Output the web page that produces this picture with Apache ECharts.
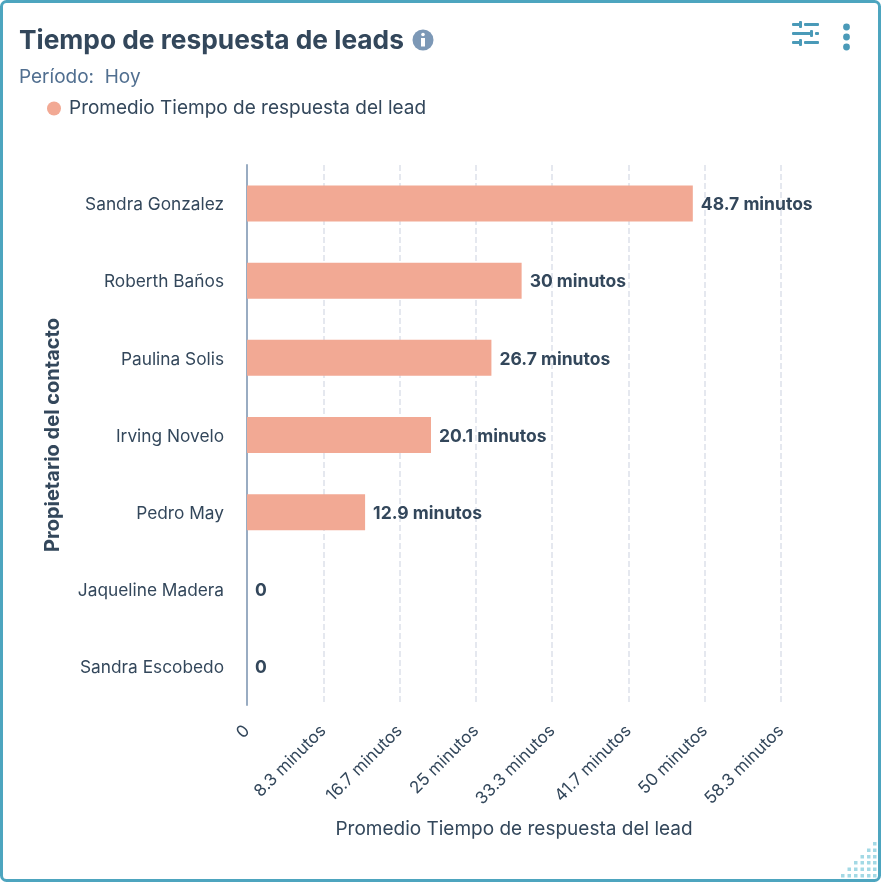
<!DOCTYPE html>
<html>
<head>
<meta charset="utf-8">
<style>
  html, body { margin: 0; padding: 0; background: #fff; }
  #main { width: 881px; height: 883px; }
</style>
<script src="https://cdn.jsdelivr.net/npm/echarts@6/dist/echarts.min.js"></script>
</head>
<body>
<div id="main"></div>
<script>
const owners = ['Sandra Gonzalez', 'Roberth Baños', 'Paulina Solis', 'Irving Novelo', 'Pedro May', 'Jaqueline Madera', 'Sandra Escobedo'];
const avgMinutes = [48.7, 30, 26.7, 20.1, 12.9, 0, 0];
const tickLabels = ['0', '8.3 minutos', '16.7 minutos', '25 minutos', '33.3 minutos', '41.7 minutos', '50 minutos', '58.3 minutos'];
const seriesName = 'Promedio Tiempo de respuesta del lead';
const tickStep = 25 / 3;

const font = 'Inter';
const dark = '#33475b';
const teal = '#4da5bf';
const iconTeal = '#4a9ab8';

// resize handle dots, bottom right
const cornerDots = [];
const dotX = [841, 847.5, 854, 860.5, 867, 873];
const dotY = [842, 848.5, 855, 861, 867.5, 874];
dotY.forEach(function (y, row) {
  dotX.forEach(function (x, col) {
    if (col >= 5 - row) {
      cornerDots.push({ type: 'rect', shape: { x: x, y: y, width: 3.5, height: 3.5 }, style: { fill: '#a3d9e5' }, silent: true });
    }
  });
});

function bar(x, y, w, h) {
  return { type: 'rect', shape: { x: x, y: y, width: w, height: h, r: 1 }, style: { fill: iconTeal }, silent: true };
}

const decorations = [
  { type: 'rect', shape: { x: 1.5, y: 1.5, width: 878, height: 879, r: 5 }, style: { fill: 'none', stroke: teal, lineWidth: 3 }, silent: true, z: -1 },
  // info icon
  { type: 'circle', shape: { cx: 423, cy: 40, r: 10.5 }, style: { fill: '#7c98b6' }, silent: true },
  { type: 'circle', shape: { cx: 423, cy: 34.5, r: 1.8 }, style: { fill: '#fff' }, silent: true },
  { type: 'rect', shape: { x: 421, y: 38, width: 4, height: 8.5 }, style: { fill: '#fff' }, silent: true },
  // filter icon
  bar(792, 23, 9, 3), bar(799, 21, 3, 7), bar(804, 23, 15, 3),
  bar(792, 32, 20, 3), bar(810, 30, 3, 7), bar(815, 32, 4, 3),
  bar(792, 41, 9, 3), bar(799, 39, 3, 7), bar(804, 41, 15, 3),
  // more menu
  { type: 'circle', shape: { cx: 846.5, cy: 27, r: 3.4 }, style: { fill: iconTeal }, silent: true },
  { type: 'circle', shape: { cx: 846.5, cy: 37, r: 3.4 }, style: { fill: iconTeal }, silent: true },
  { type: 'circle', shape: { cx: 846.5, cy: 47, r: 3.4 }, style: { fill: iconTeal }, silent: true }
].concat(cornerDots);

const chart = echarts.init(document.getElementById('main'));
chart.setOption({
  animation: false,
  textStyle: { fontFamily: font },
  title: [
    { text: 'Tiempo de respuesta de leads', left: 19, top: 28, padding: 0, textStyle: { fontFamily: font, fontSize: 26.3, fontWeight: 700, color: dark } },
    { text: 'Período:  Hoy', left: 19, top: 68, padding: 0, textStyle: { fontFamily: font, fontSize: 19, fontWeight: 400, color: '#516f90' } }
  ],
  legend: {
    data: [seriesName],
    left: 47,
    top: 99,
    padding: 0,
    icon: 'circle',
    itemWidth: 14,
    itemHeight: 14,
    itemGap: 8,
    textStyle: { fontFamily: font, fontSize: 19, color: dark, padding: [0, 0, 0, 3] }
  },
  grid: { left: 247, right: 100, top: 165, bottom: 178 },
  xAxis: {
    type: 'value',
    min: 0,
    max: tickStep * 7,
    interval: tickStep,
    name: seriesName,
    nameLocation: 'middle',
    nameGap: 115,
    nameTextStyle: { fontFamily: font, fontSize: 19, color: dark },
    axisLine: { show: false },
    axisTick: { show: false },
    axisLabel: {
      rotate: 45,
      margin: 23,
      fontFamily: font,
      fontSize: 17,
      color: dark,
      formatter: function (value) { return tickLabels[Math.round(value / tickStep)]; }
    },
    splitLine: { show: true, lineStyle: { color: '#e5e8ef', width: 2, type: [6, 3] } }
  },
  yAxis: {
    type: 'category',
    inverse: true,
    data: owners,
    name: 'Propietario del contacto',
    nameLocation: 'middle',
    nameGap: 184,
    nameTextStyle: { fontFamily: font, fontSize: 20, fontWeight: 700, color: dark },
    axisLine: { show: true, lineStyle: { color: '#99acc2', width: 2 } },
    axisTick: { show: false },
    axisLabel: {
      margin: 23,
      formatter: '{n|{value}}',
      rich: { n: { fontFamily: font, fontSize: 17.3, color: dark, padding: [3, 0, 0, 0] } }
    }
  },
  series: [{
    name: seriesName,
    type: 'bar',
    data: avgMinutes,
    barWidth: 36,
    itemStyle: { color: '#f2a994' },
    label: {
      show: true,
      position: 'right',
      distance: 8,
      offset: [0, 1.5],
      fontFamily: font,
      fontSize: 17.5,
      fontWeight: 700,
      color: dark,
      formatter: function (p) { return p.value === 0 ? '0' : p.value + ' minutos'; }
    }
  }],
  graphic: decorations
});
</script>
</body>
</html>
